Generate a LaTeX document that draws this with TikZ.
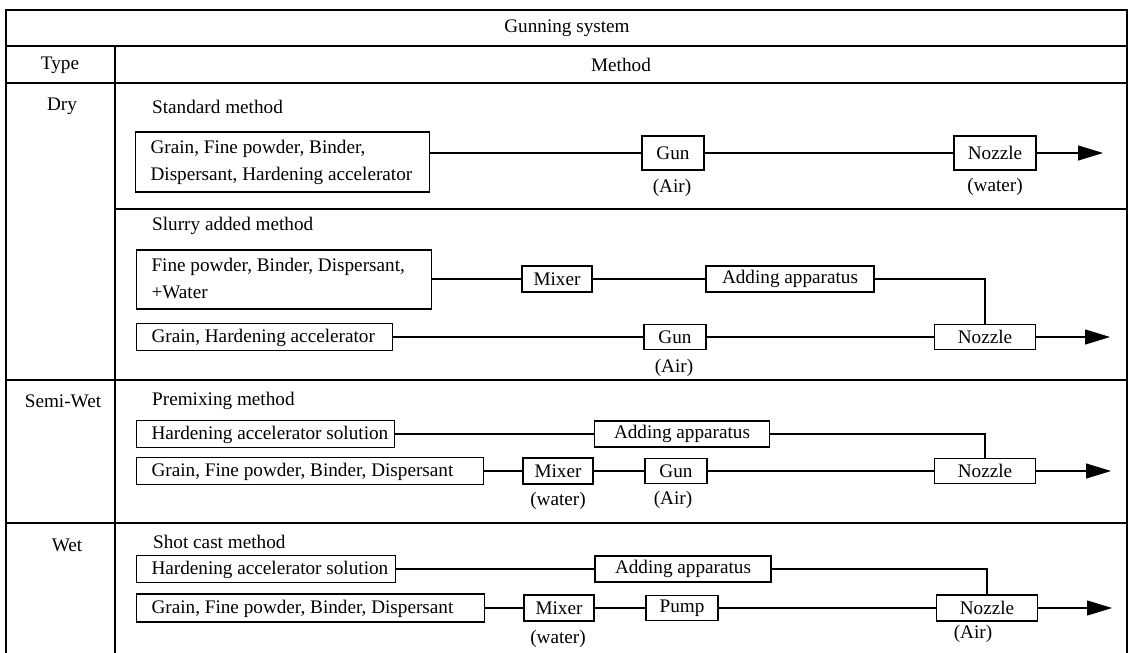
\documentclass[tikz,border=0pt]{standalone}
\usepackage{fontspec}
\setmainfont{Liberation Serif}
\usetikzlibrary{arrows.meta}
\newcommand\ipad{\hspace*{15pt}}
\newcommand\boxtext[2]{\makebox[#1][l]{\ipad\begin{tabular}[c]{@{}l@{}}#2\end{tabular}}}
\begin{document}
\begin{tikzpicture}[x=1pt,y=-1pt,
  every node/.style={font=\fontsize{19.2}{27}\selectfont, inner sep=0pt},
  tline/.style={line width=1.3pt},
  conn/.style={line width=1.1pt},
  inbox/.style={draw, line width=1.1pt, anchor=west, inner sep=0pt},
  pbox/.style={draw, line width=1.1pt, minimum height=26pt, inner sep=0pt},
  title/.style={anchor=west},
  flow/.style={conn, -{Triangle[length=25pt,width=15pt]}}
]
\useasboundingbox (0,0) rectangle (1130,653);

% table frame
\draw[tline] (6,653) -- (6,10) -- (1127,10) -- (1127,653);
\draw[tline] (6,46) -- (1127,46);
\draw[tline] (6,83) -- (1127,83);
\draw[tline] (115,46) -- (115,653);
\draw[tline] (115,209) -- (1127,209);
\draw[tline] (6,380) -- (1127,380);
\draw[tline] (6,523) -- (1127,523);

% headers
\node (hgs) at (567,28) {Gunning system};
\node (htype) at (60,65) {Type};
\node (hmeth) at (621,65) {Method};
\node (tdry) at (62,106) {Dry};
\node (tsemi) at (63,401) {Semi-Wet};
\node (twet) at (67,545) {Wet};

% ---------- Standard method ----------
\node[title] (ttl1) at (152,107) {Standard method};
\node[inbox, minimum height=60pt] (s1) at (135,162)
  {\boxtext{294pt}{Grain, Fine powder, Binder,\\Dispersant, Hardening accelerator}};
\node[pbox, minimum width=62pt, minimum height=34pt] (g1) at (673,153) {Gun};
\node[pbox, minimum width=82pt, minimum height=34pt] (n1) at (995,153) {Nozzle};
\node (lg1) at (672,188) {(Air)};
\node (ln1) at (995,187) {(water)};
\coordinate (e1) at (1103,153);
\draw[conn] (s1.east |- g1.west) -- (g1.west);
\draw[conn] (g1) -- (n1);
\draw[flow] (n1) -- (e1);

% ---------- Slurry added method ----------
\node[title] (ttl2) at (152,226) {Slurry added method};
\node[inbox, minimum height=59pt] (s2) at (136,279.5)
  {\boxtext{295pt}{Fine powder, Binder, Dispersant,\\+Water}};
\node[pbox, minimum width=70pt] (m2) at (557,279) {Mixer};
\node[pbox, minimum width=168pt] (a2) at (790,279) {Adding apparatus};
\node[inbox, minimum height=26pt] (s3) at (136,337)
  {\boxtext{256pt}{Grain, Hardening accelerator}};
\node[pbox, minimum width=62pt, minimum height=25pt] (g2) at (675,337) {Gun};
\node[pbox, minimum width=101pt, minimum height=25pt] (n2) at (985,337) {Nozzle};
\node (lg2) at (674,368) {(Air)};
\coordinate (e2) at (1110,337);
\draw[conn] (s2.east |- m2.west) -- (m2.west);
\draw[conn] (m2) -- (a2);
\draw[conn] (a2.east) -| (n2.north);
\draw[conn] (s3) -- (g2);
\draw[conn] (g2) -- (n2);
\draw[flow] (n2) -- (e2);

% ---------- Premixing method ----------
\node[title] (ttl3) at (152,401) {Premixing method};
\node[inbox, minimum height=26pt] (s4) at (136,434)
  {\boxtext{258pt}{Hardening accelerator solution}};
\node[pbox, minimum width=175pt] (a3) at (682,434) {Adding apparatus};
\node[inbox, minimum height=26pt] (s5) at (136,471)
  {\boxtext{347pt}{Grain, Fine powder, Binder, Dispersant}};
\node[pbox, minimum width=70pt] (m3) at (558,471) {Mixer};
\node[pbox, minimum width=62pt, minimum height=25pt] (g3) at (676,471) {Gun};
\node[pbox, minimum width=101pt, minimum height=25pt] (n3) at (985,471) {Nozzle};
\node (lm3) at (558,501) {(water)};
\node (lg3) at (673,500) {(Air)};
\coordinate (e3) at (1111,471);
\draw[conn] (s4) -- (a3);
\draw[conn] (a3.east) -| (n3.north);
\draw[conn] (s5) -- (m3);
\draw[conn] (m3) -- (g3);
\draw[conn] (g3) -- (n3);
\draw[flow] (n3) -- (e3);

% ---------- Shot cast method ----------
\node[title] (ttl4) at (153,542) {Shot cast method};
\node[inbox, minimum height=25pt] (s6) at (136,569)
  {\boxtext{259pt}{Hardening accelerator solution}};
\node[pbox, minimum width=176pt] (a4) at (683,569) {Adding apparatus};
\node[inbox, minimum height=28pt] (s7) at (136,608)
  {\boxtext{348pt}{Grain, Fine powder, Binder, Dispersant}};
\node[pbox, minimum width=70pt] (m4) at (559,608) {Mixer};
\node[pbox, minimum width=72pt, minimum height=25pt] (p4) at (682,608) {Pump};
\node[pbox, minimum width=101pt] (n4) at (987,608) {Nozzle};
\node (lm4) at (558,639) {(water)};
\node (ln4) at (973,634) {(Air)};
\coordinate (e4) at (1112,608);
\draw[conn] (s6) -- (a4);
\draw[conn] (a4.east) -| (n4.north);
\draw[conn] (s7) -- (m4);
\draw[conn] (m4) -- (p4);
\draw[conn] (p4) -- (n4);
\draw[flow] (n4) -- (e4);
\end{tikzpicture}
\end{document}
